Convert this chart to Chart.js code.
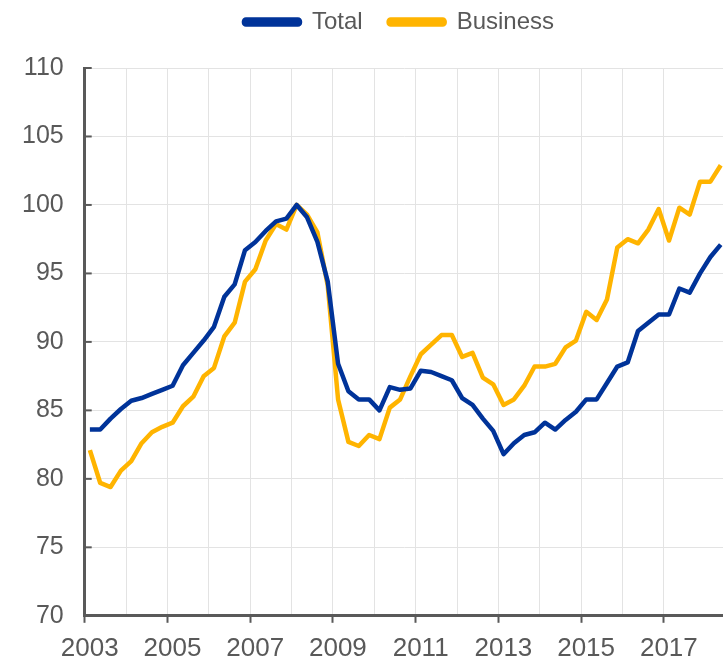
<!DOCTYPE html>
<html>
<head>
<meta charset="utf-8">
<script src="https://cdn.jsdelivr.net/npm/chart.js@4.4.1/dist/chart.umd.min.js"></script>
<style>
  html, body { margin: 0; padding: 0; background: #fff; }
  #wrap { width: 723px; height: 663px; position: relative; }
</style>
</head>
<body>
<div id="wrap"><canvas id="chart"></canvas></div>
<script>
// Trimestres 2003T1 - 2018T2
const quarters = [];
for (let y = 2003; y <= 2018; y++) {
    for (let q = 1; q <= 4; q++) {
        if (y === 2018 && q > 2) break;
        quarters.push(y + 'Q' + q);
    }
}

const total = [83.6, 83.6, 84.4, 85.1, 85.7, 85.9, 86.2, 86.5, 86.8, 88.3, 89.2, 90.1, 91.1, 93.3, 94.2, 96.7,
    97.3, 98.1, 98.8, 99.0, 100.0, 99.1, 97.3, 94.4, 88.4, 86.4, 85.8, 85.8, 85.0, 86.7, 86.5, 86.6,
    87.9, 87.8, 87.5, 87.2, 85.9, 85.4, 84.4, 83.5, 81.8, 82.6, 83.2, 83.4, 84.1, 83.6, 84.3, 84.9,
    85.8, 85.8, 87.0, 88.2, 88.5, 90.8, 91.4, 92.0, 92.0, 93.9, 93.6, 95.0, 96.2, 97.1];

const business = [82.1, 79.7, 79.4, 80.6, 81.3, 82.6, 83.4, 83.8, 84.1, 85.3, 86.0, 87.5, 88.1, 90.4, 91.4, 94.4,
    95.3, 97.4, 98.6, 98.2, 100.0, 99.3, 98.0, 94.1, 85.8, 82.7, 82.4, 83.2, 82.9, 85.2, 85.8, 87.5,
    89.1, 89.8, 90.5, 90.5, 88.9, 89.2, 87.4, 86.9, 85.4, 85.8, 86.8, 88.2, 88.2, 88.4, 89.6, 90.1,
    92.2, 91.6, 93.1, 96.9, 97.5, 97.2, 98.2, 99.7, 97.4, 99.8, 99.3, 101.7, 101.7, 102.9];

const yTicks = [70, 75, 80, 85, 90, 95, 100, 105, 110];

// posición en el eje: mitad del trimestre
function qPos(label) {
    const y = parseInt(label.slice(0, 4), 10);
    const q = parseInt(label.slice(5), 10);
    return y + (q - 0.5) / 4;
}
const toPoints = arr => arr.map((v, i) => ({ x: qPos(quarters[i]), y: v }));

const TXT = '#595959';
const FONT = "'Liberation Sans', Arial, sans-serif";

// marcas interiores del eje Y + ajustes de leyenda
const tweaks = {
    id: 'tweaks',
    beforeInit(chart) {
        const lg = chart.legend;
        const origFit = lg.fit;
        lg.fit = function () {
            origFit.call(this);
            this.height += 24;
        };
    },
    afterLayout(chart) {
        chart.legend.left += 74;
    },
    afterDraw(chart) {
        const ys = chart.scales.y;
        const ctx = chart.ctx;
        const x0 = chart.chartArea.left;
        ctx.save();
        ctx.strokeStyle = TXT;
        ctx.lineWidth = 2;
        yTicks.forEach(v => {
            const py = ys.getPixelForValue(v);
            ctx.beginPath();
            ctx.moveTo(x0, py);
            ctx.lineTo(x0 + 7, py);
            ctx.stroke();
        });
        ctx.restore();
    }
};

new Chart(document.getElementById('chart'), {
    type: 'line',
    data: {
        datasets: [
            {
                label: 'Total',
                data: toPoints(total),
                borderColor: '#003399',
                backgroundColor: '#003399',
                borderWidth: 4.5,
                pointRadius: 0,
                tension: 0,
                borderJoinStyle: 'round'
            },
            {
                label: 'Business',
                data: toPoints(business),
                borderColor: '#FFB400',
                backgroundColor: '#FFB400',
                borderWidth: 4.5,
                pointRadius: 0,
                tension: 0,
                borderJoinStyle: 'round'
            }
        ]
    },
    options: {
        responsive: true,
        maintainAspectRatio: false,
        animation: false,
        layout: { padding: { left: 1, right: 0, top: -16, bottom: -11 } },
        plugins: {
            legend: {
                position: 'top',
                labels: {
                    color: TXT,
                    font: { family: FONT, size: 24 },
                    boxWidth: 56,
                    boxHeight: 5,
                    useBorderRadius: true,
                    borderRadius: 2,
                    padding: 26
                }
            },
            tooltip: { enabled: false }
        },
        scales: {
            x: {
                type: 'linear',
                min: 2003,
                max: 2018.43,
                afterBuildTicks: axis => {
                    axis.ticks = axis.ticks.filter(t => Number.isInteger(t.value));
                },
                ticks: {
                    stepSize: 1,
                    autoSkip: false,
                    maxRotation: 0,
                    color: TXT,
                    font: { family: FONT, size: 26 },
                    padding: 10,
                    labelOffset: 5,
                    callback: v => (v % 2 === 1 ? String(v) : '')
                },
                grid: {
                    color: '#e3e3e3',
                    lineWidth: 1,
                    tickLength: 7,
                    tickWidth: 2,
                    tickColor: ctx => (ctx.tick && ctx.tick.value % 2 === 1 ? TXT : 'rgba(0,0,0,0)')
                },
                border: { color: TXT, width: 3 }
            },
            y: {
                min: 70,
                max: 110,
                afterBuildTicks: axis => {
                    axis.ticks = yTicks.map(v => ({ value: v }));
                },
                ticks: {
                    color: TXT,
                    font: { family: FONT, size: 25 },
                    padding: 21
                },
                grid: {
                    color: '#e3e3e3',
                    lineWidth: 1,
                    drawTicks: false
                },
                border: { color: TXT, width: 3 }
            }
        }
    },
    plugins: [tweaks]
});
</script>
</body>
</html>
